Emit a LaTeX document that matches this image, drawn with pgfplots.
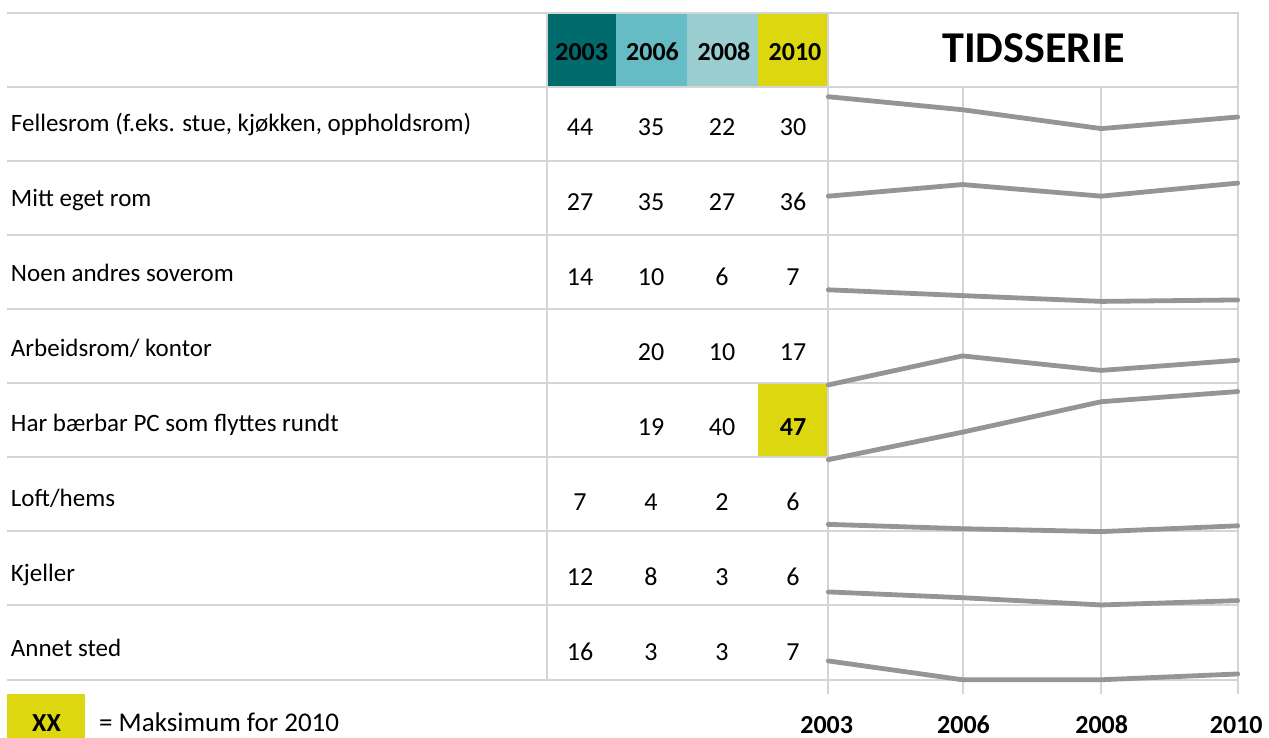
\documentclass[border=0pt]{standalone}
\usepackage{pgfplots}
\pgfplotsset{compat=1.18}
\usepackage{pgfplotstable}
\usepackage{fontspec}
\setmainfont{Carlito}
\definecolor{c03}{RGB}{0,107,109}
\definecolor{c06}{RGB}{102,188,196}
\definecolor{c08}{RGB}{153,205,208}
\definecolor{c10}{RGB}{221,215,16}
\definecolor{gridc}{RGB}{212,212,212}
\definecolor{linec}{RGB}{147,149,153}
\newcommand\lab{\fontsize{25bp}{28bp}\selectfont}
\newcommand\num{\fontsize{26bp}{30bp}\selectfont}
\newcommand\hdr{\fontsize{26bp}{30bp}\selectfont\bfseries}
\tikzset{
  dl/.style={draw=linec, line width=4.8bp, line join=round, line cap=round},
  num/.style={anchor=base, inner sep=0pt, font=\num},
  lab/.style={anchor=base west, inner sep=0pt, font=\lab},
  gl/.style={draw=gridc, line width=2bp},
}

% values per row (blank cells plotted as 0, as in the original)
\pgfplotstableread{
year px     fell mitt noen arb har loft kj ann
2003 828.3  44   27   14   0   0   7    12 16
2006 962.5  35   35   10   20  19  4    8  3
2008 1101.3 22   27   6    10  40  2    3  3
2010 1237.7 30   36   7    17  47  6    6  7
}\series

\begin{document}
\begin{tikzpicture}
\begin{axis}[
  x=1bp, y=1bp, xmin=0, xmax=1269, ymin=0, ymax=738,
  y dir=reverse, hide axis, clip=false,
]
% header fills
\fill[c03] (547,14) rectangle (616,86.5);
\fill[c06] (616,14) rectangle (687,86.5);
\fill[c08] (687,14) rectangle (758,86.5);
\fill[c10] (758,14) rectangle (827.3,86.5);
% max cell
\fill[c10] (757.5,384.3) rectangle (827.3,457);
% legend box
\fill[c10] (7,694.3) rectangle (85,745);

% grid lines
\draw[gl] (7,13) -- (1238.5,13);
\draw[gl] (7,87) -- (1238.5,87);
\draw[gl] (7,161) -- (1238.5,161);
\draw[gl] (7,235.3) -- (1238.5,235.3);
\draw[gl] (7,309.3) -- (1238.5,309.3);
\draw[gl] (7,383.3) -- (1238.5,383.3);
\draw[gl] (7,457.3) -- (1238.5,457.3);
\draw[gl] (7,531.3) -- (1238.5,531.3);
\draw[gl] (7,605) -- (1238.5,605);
\draw[gl] (7,680) -- (1238.5,680);
\draw[gl] (547,13) -- (547,680);
\draw[gl] (828.3,13) -- (828.3,694.3);
\draw[gl] (962.5,87) -- (962.5,694.3);
\draw[gl] (1101.3,87) -- (1101.3,694.3);
\draw[gl] (1237.7,13) -- (1237.7,694.3);

% time series (each row on its own baseline)
\addplot[dl, mark=none] table[x=px, y expr={160.5-1.45*\thisrow{fell}}] \series;
\addplot[dl, mark=none] table[x=px, y expr={235.3-1.45*\thisrow{mitt}}] \series;
\addplot[dl, mark=none] table[x=px, y expr={310.1-1.45*\thisrow{noen}}] \series;
\addplot[dl, mark=none] table[x=px, y expr={384.9-1.45*\thisrow{arb}}] \series;
\addplot[dl, mark=none] table[x=px, y expr={459.7-1.45*\thisrow{har}}] \series;
\addplot[dl, mark=none] table[x=px, y expr={534.5-1.45*\thisrow{loft}}] \series;
\addplot[dl, mark=none] table[x=px, y expr={609.3-1.45*\thisrow{kj}}] \series;
\addplot[dl, mark=none] table[x=px, y expr={684.1-1.45*\thisrow{ann}}] \series;

% header texts
\node[anchor=base, inner sep=0pt, font=\hdr] at (581.7,60) {2003};
\node[anchor=base, inner sep=0pt, font=\hdr] at (652.5,60) {2006};
\node[anchor=base, inner sep=0pt, font=\hdr] at (724,60) {2008};
\node[anchor=base, inner sep=0pt, font=\hdr] at (795,60) {2010};
\node[anchor=base, inner sep=0pt, font=\fontsize{44bp}{50bp}\selectfont\bfseries] at (1033.4,62.7) {TIDSSERIE};

% row labels
\node[lab] at (10.8,131.7) {Fellesrom (f.eks. stue, kjøkken, oppholdsrom)};
\node[lab] at (10.8,206.7) {Mitt eget rom};
\node[lab] at (10.8,281.7) {Noen andres soverom};
\node[lab] at (10.8,356.7) {Arbeidsrom/ kontor};
\node[lab] at (10.8,431.7) {Har bærbar PC som flyttes rundt};
\node[lab] at (10.8,506.7) {Loft/hems};
\node[lab] at (10.8,581.7) {Kjeller};
\node[lab] at (10.8,656.7) {Annet sted};

% numbers
\node[num] at (580,135) {44}; \node[num] at (651,135) {35}; \node[num] at (722,135) {22}; \node[num] at (793,135) {30};
\node[num] at (580,210) {27}; \node[num] at (651,210) {35}; \node[num] at (722,210) {27}; \node[num] at (793,210) {36};
\node[num] at (580,285) {14}; \node[num] at (651,285) {10}; \node[num] at (722,285) {6};  \node[num] at (793,285) {7};
                              \node[num] at (651,360) {20}; \node[num] at (722,360) {10}; \node[num] at (793,360) {17};
                              \node[num] at (651,435) {19}; \node[num] at (722,435) {40}; \node[num, font=\num\bfseries] at (793,435) {47};
\node[num] at (580,510) {7};  \node[num] at (651,510) {4};  \node[num] at (722,510) {2};  \node[num] at (793,510) {6};
\node[num] at (580,585) {12}; \node[num] at (651,585) {8};  \node[num] at (722,585) {3};  \node[num] at (793,585) {6};
\node[num] at (580,660) {16}; \node[num] at (651,660) {3};  \node[num] at (722,660) {3};  \node[num] at (793,660) {7};

% bottom year labels
\node[anchor=base, inner sep=0pt, font=\hdr] at (826.7,733) {2003};
\node[anchor=base, inner sep=0pt, font=\hdr] at (963.5,733) {2006};
\node[anchor=base, inner sep=0pt, font=\hdr] at (1101.7,733) {2008};
\node[anchor=base, inner sep=0pt, font=\hdr] at (1236.3,733) {2010};

% legend
\node[anchor=base, inner sep=0pt, font=\hdr] at (46.5,731.3) {XX};
\node[anchor=base west, inner sep=0pt, font=\fontsize{27bp}{30bp}\selectfont] at (99,731.3) {= Maksimum for 2010};
\end{axis}
\pgfresetboundingbox
\path (0,0) rectangle (1269bp,738bp);
\end{tikzpicture}
\end{document}
